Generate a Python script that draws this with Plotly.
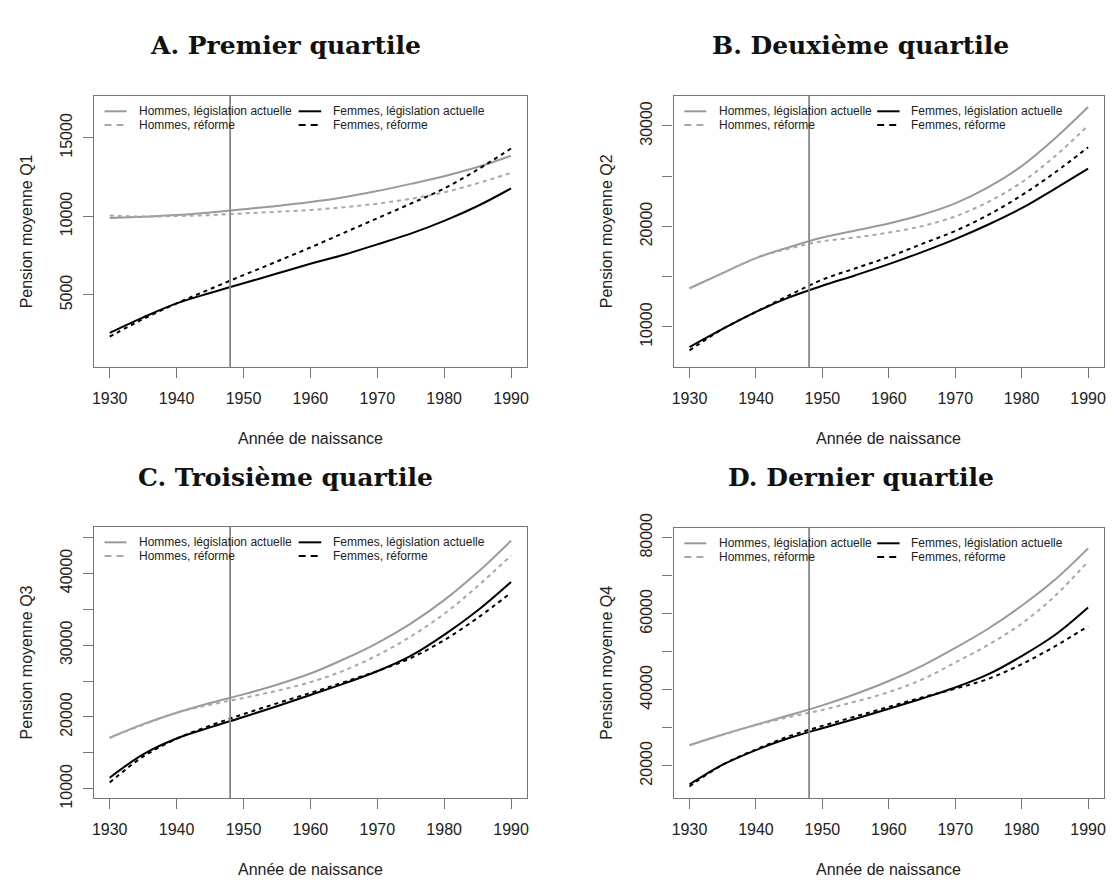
import plotly.graph_objects as go

# ---- data -----------------------------------------------------------------
YEARS = [1930, 1935, 1940, 1945, 1950, 1955, 1960, 1965, 1970, 1975, 1980, 1985, 1990]

# Q1: premier quartile
Q1_HOMMES_ACTUELLE = [9900, 9980, 10080, 10250, 10450, 10660, 10910, 11220, 11610, 12070, 12560, 13140, 13860]
Q1_HOMMES_REFORME = [10050, 9990, 10020, 10080, 10190, 10290, 10410, 10580, 10810, 11120, 11530, 12110, 12770]
Q1_FEMMES_ACTUELLE = [2580, 3570, 4460, 5120, 5740, 6360, 6980, 7560, 8220, 8900, 9710, 10660, 11780]
Q1_FEMMES_REFORME = [2340, 3470, 4460, 5370, 6260, 7130, 8020, 8950, 9880, 10810, 11780, 12980, 14320]

# Q2: deuxième quartile
Q2_HOMMES_ACTUELLE = [13850, 15360, 16850, 17940, 18900, 19600, 20300, 21160, 22290, 23900, 26000, 28740, 31870]
Q2_HOMMES_REFORME = [13850, 15360, 16850, 17800, 18520, 18900, 19390, 20030, 21000, 22450, 24390, 26970, 30030]
Q2_FEMMES_ACTUELLE = [8000, 9800, 11500, 12940, 14100, 15150, 16250, 17450, 18740, 20190, 21810, 23740, 25740]
Q2_FEMMES_REFORME = [7680, 9800, 11500, 13150, 14710, 15840, 16970, 18260, 19550, 21160, 23100, 25360, 27870]

# Q3: troisième quartile
Q3_HOMMES_ACTUELLE = [17110, 19000, 20590, 21940, 23150, 24500, 26050, 28040, 30300, 33010, 36270, 40150, 44540]
Q3_HOMMES_REFORME = [17110, 18920, 20590, 21700, 22650, 23650, 24850, 26460, 28590, 31210, 34370, 38210, 42500]
Q3_FEMMES_ACTUELLE = [11550, 14800, 17000, 18550, 20000, 21490, 23070, 24650, 26370, 28500, 31430, 34820, 38800]
Q3_FEMMES_REFORME = [10870, 14490, 16970, 18800, 20400, 21900, 23350, 24850, 26400, 28200, 30700, 33800, 37310]

# Q4: dernier quartile
Q4_HOMMES_ACTUELLE = [25410, 28230, 30790, 33300, 35900, 38900, 42300, 46300, 51010, 56130, 62100, 68930, 77200]
Q4_HOMMES_REFORME = [25410, 28140, 30700, 32830, 34700, 36900, 39400, 42700, 47170, 51860, 57410, 64660, 73790]
Q4_FEMMES_ACTUELLE = [15090, 20290, 24130, 27300, 29900, 32400, 35000, 37700, 40600, 44100, 48870, 54420, 61670]
Q4_FEMMES_REFORME = [14570, 20290, 24300, 27800, 30500, 33000, 35500, 38000, 40300, 42900, 46740, 51430, 56720]

SERIES_NAMES = [
    "Hommes, législation actuelle",
    "Hommes, réforme",
    "Femmes, législation actuelle",
    "Femmes, réforme",
]
PANEL_TITLES = ["A. Premier quartile", "B. Deuxième quartile",
                "C. Troisième quartile", "D. Dernier quartile"]
Y_TITLES = ["Pension moyenne Q1", "Pension moyenne Q2",
            "Pension moyenne Q3", "Pension moyenne Q4"]
X_TITLE = "Année de naissance"
REFORM_YEAR = 1948

X_TICKS = [1930, 1940, 1950, 1960, 1970, 1980, 1990]
Q1_YTICKS = [5000, 10000, 15000]
Q1_YLABELS = ["5000", "10000", "15000"]
Q2_YTICKS = [10000, 15000, 20000, 25000, 30000]
Q2_YLABELS = ["10000", "", "20000", "", "30000"]
Q3_YTICKS = [10000, 15000, 20000, 25000, 30000, 35000, 40000, 45000]
Q3_YLABELS = ["10000", "", "20000", "", "30000", "", "40000", ""]
Q4_YTICKS = [20000, 30000, 40000, 50000, 60000, 70000, 80000]
Q4_YLABELS = ["20000", "", "40000", "", "60000", "", "80000"]

# ---- layout geometry ---------------------------------------------------------
W, H = 1114, 888
X_RANGE = [1927.6, 1992.4]
PANELS = [
    dict(series=[Q1_HOMMES_ACTUELLE, Q1_HOMMES_REFORME, Q1_FEMMES_ACTUELLE, Q1_FEMMES_REFORME],
         yticks=Q1_YTICKS, ylabels=Q1_YLABELS, yrange=[400, 17680],
         box=(92, 527, 84, 363), title_x=285, title_y=32),
    dict(series=[Q2_HOMMES_ACTUELLE, Q2_HOMMES_REFORME, Q2_FEMMES_ACTUELLE, Q2_FEMMES_REFORME],
         yticks=Q2_YTICKS, ylabels=Q2_YLABELS, yrange=[6000, 33000],
         box=(674, 1106, 84, 363), title_x=862, title_y=32),
    dict(series=[Q3_HOMMES_ACTUELLE, Q3_HOMMES_REFORME, Q3_FEMMES_ACTUELLE, Q3_FEMMES_REFORME],
         yticks=Q3_YTICKS, ylabels=Q3_YLABELS, yrange=[8690, 46490],
         box=(92, 527, 527, 806), title_x=285, title_y=476),
    dict(series=[Q4_HOMMES_ACTUELLE, Q4_HOMMES_REFORME, Q4_FEMMES_ACTUELLE, Q4_FEMMES_REFORME],
         yticks=Q4_YTICKS, ylabels=Q4_YLABELS, yrange=[11470, 82640],
         box=(674, 1106, 528, 806), title_x=862, title_y=476),
]

STYLES = [
    dict(color="#9a9a9a", dash="solid"),
    dict(color="#a8a8a8", dash="4px,4px"),
    dict(color="#000000", dash="solid"),
    dict(color="#000000", dash="4px,4px"),
]
LEGEND_DASH = "7px,5px"

AXIS_COLOR = "#777777"
SANS = "Liberation Sans, Arial, sans-serif"
SERIF = "DejaVu Serif, serif"
TICK_SIZE = 16
LEGEND_SIZE = 12

fig = go.Figure()
shapes = []
annotations = []
layout_axes = {}

for i, panel in enumerate(PANELS):
    n = "" if i == 0 else str(i + 1)
    xa, ya = "x" + n, "y" + n
    x0, x1, top, bottom = panel["box"]

    for name, values, style in zip(SERIES_NAMES, panel["series"], STYLES):
        fig.add_trace(go.Scatter(
            x=YEARS, y=values, name=name, mode="lines",
            line=dict(color=style["color"], dash=style["dash"], width=2,
                      shape="spline", smoothing=1.0),
            xaxis=xa, yaxis=ya, showlegend=False,
        ))

    layout_axes["xaxis" + n] = dict(
        domain=[x0 / W, x1 / W], anchor=ya, range=X_RANGE,
        tickmode="array", tickvals=X_TICKS, ticks="outside", ticklen=10,
        tickwidth=1.3, tickcolor=AXIS_COLOR, showline=True, linecolor=AXIS_COLOR,
        linewidth=1.3, mirror=True, showgrid=False, zeroline=False,
        tickfont=dict(family=SANS, size=TICK_SIZE, color="#222222"),
        ticklabelstandoff=6,
    )
    layout_axes["yaxis" + n] = dict(
        domain=[1 - bottom / H, 1 - top / H], anchor=xa, range=panel["yrange"],
        tickmode="array", tickvals=panel["yticks"], ticktext=panel["ylabels"],
        tickangle=-90, ticks="outside", ticklen=10, tickwidth=1.3,
        tickcolor=AXIS_COLOR, showline=True, linecolor=AXIS_COLOR, linewidth=1.3,
        mirror=True, showgrid=False, zeroline=False,
        tickfont=dict(family=SANS, size=TICK_SIZE, color="#222222"),
        ticklabelstandoff=4,
    )

    # vertical reference line at the reform cohort
    shapes.append(dict(type="line", xref=xa, yref=ya + " domain",
                       x0=REFORM_YEAR, x1=REFORM_YEAR, y0=0, y1=1,
                       line=dict(color="#888888", width=1.8)))

    # in-plot legend: two columns, two rows
    box_w, box_h = x1 - x0, bottom - top
    rows = [1 - 16 / box_h, 1 - 30 / box_h]
    cols = [(0.025, 0.076, 0.101), (0.473, 0.525, 0.548)]
    for k, (name, style) in enumerate(zip(SERIES_NAMES, STYLES)):
        col = cols[k // 2]
        row = rows[k % 2]
        shapes.append(dict(
            type="line", xref=xa + " domain", yref=ya + " domain",
            x0=col[0], x1=col[1], y0=row, y1=row,
            line=dict(color=style["color"], width=2,
                      dash="solid" if style["dash"] == "solid" else LEGEND_DASH)))
        annotations.append(dict(
            text=name, xref=xa + " domain", yref=ya + " domain",
            x=col[2], y=row, xanchor="left", yanchor="middle", showarrow=False,
            font=dict(family=SANS, size=LEGEND_SIZE, color="#222222")))

    # panel title
    annotations.append(dict(
        text="<b>" + PANEL_TITLES[i] + "</b>", xref="paper", yref="paper",
        x=panel["title_x"] / W, y=1 - panel["title_y"] / H,
        xanchor="center", yanchor="middle", showarrow=False,
        font=dict(family=SERIF, size=25, color="#111111")))
    # axis titles
    annotations.append(dict(
        text=Y_TITLES[i], xref="paper", yref="paper",
        x=(x0 - 67) / W, y=1 - ((top + bottom) / 2) / H, textangle=-90,
        xanchor="center", yanchor="middle", showarrow=False,
        font=dict(family=SANS, size=TICK_SIZE, color="#222222")))
    annotations.append(dict(
        text=X_TITLE, xref="paper", yref="paper",
        x=((x0 + x1) / 2) / W, y=1 - (bottom + 73) / H,
        xanchor="center", yanchor="middle", showarrow=False,
        font=dict(family=SANS, size=TICK_SIZE, color="#222222")))

fig.update_layout(
    width=W, height=H, margin=dict(l=0, r=0, t=0, b=0),
    paper_bgcolor="white", plot_bgcolor="white", showlegend=False,
    shapes=shapes, annotations=annotations, **layout_axes,
)

fig.write_html("out.html")
